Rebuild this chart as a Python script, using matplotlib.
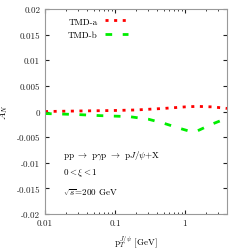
import numpy as np
import matplotlib
matplotlib.use("Agg")
import matplotlib.pyplot as plt

plt.rcParams['font.family'] = ['cmr10', 'DejaVu Serif']
plt.rcParams['mathtext.fontset'] = 'cm'
plt.rcParams['axes.unicode_minus'] = False

pt_a = [0.01, 0.03, 0.1, 0.2, 0.5, 1.0, 1.5, 2.5, 4.0]
an_a = [0.0000, 0.0001, 0.0002, 0.0003, 0.0006, 0.0009, 0.0010, 0.0009, 0.0006]
pt_b = [0.01, 0.03, 0.06, 0.16, 0.3, 0.5, 0.85, 1.2, 1.5, 2.4, 4.0]
an_b = [-0.0004, -0.0006, -0.0008, -0.0010, -0.0015, -0.0023, -0.0033, -0.0039, -0.0038, -0.0025, -0.0013]
yticks = [-0.02, -0.015, -0.01, -0.005, 0, 0.005, 0.01, 0.015, 0.02]
ytick_labels = ['-0.02', '-0.015', '-0.01', '-0.005', '0', '0.005', '0.01', '0.015', '0.02']
xticks = [0.01, 0.1, 1]
xtick_labels = ['0.01', '0.1', '1']

fig = plt.figure(figsize=(2.4, 2.51), dpi=100)
ax = fig.add_axes([45/240, 36/251, 182/240, 205/251])
ax.plot(pt_a, an_a, color='#ff0000', lw=2.0, linestyle=(0, (1.1, 2.0)), label='TMD-a')
ax.plot(pt_b, an_b, color='#00ee00', lw=2.0, linestyle=(0, (2.4, 3.8)), label='TMD-b')
ax.set_xscale('log')
ax.set_xlim(0.01, 4.0)
ax.set_ylim(-0.02, 0.02)
ax.set_yticks(yticks)
ax.set_yticklabels(ytick_labels)
ax.set_xticks(xticks)
ax.set_xticklabels(xtick_labels)
ax.tick_params(direction='in', which='both', top=True, right=True, labelsize=6.5, colors='#222222', length=3)
ax.tick_params(which='minor', length=1.5)
for s in ax.spines.values():
    s.set_color('#999999')
ax.set_ylabel(r'$A_N$', fontsize=7)
ax.yaxis.set_label_coords(-0.19, 0.5)
ax.set_xlabel(r'$\mathrm{p}_T^{J/\psi}$ [GeV]', fontsize=6.5, labelpad=4)
ax.legend(loc='upper left', bbox_to_anchor=(0.08, 1.0), frameon=False, fontsize=6.5,
          markerfirst=False, handlelength=2.6, labelspacing=0.6)
ax.text(0.1, 0.29, r'pp $\rightarrow$ p$\gamma$p $\rightarrow$ p$J/\psi$+X', transform=ax.transAxes, fontsize=6.5, va='center')
ax.text(0.1, 0.205, r'$0<\xi<1$', transform=ax.transAxes, fontsize=6.5, va='center')
ax.text(0.1, 0.107, r'$\sqrt{s}$=200 GeV', transform=ax.transAxes, fontsize=6.5, va='center')
fig.savefig('out.png', dpi=100)
